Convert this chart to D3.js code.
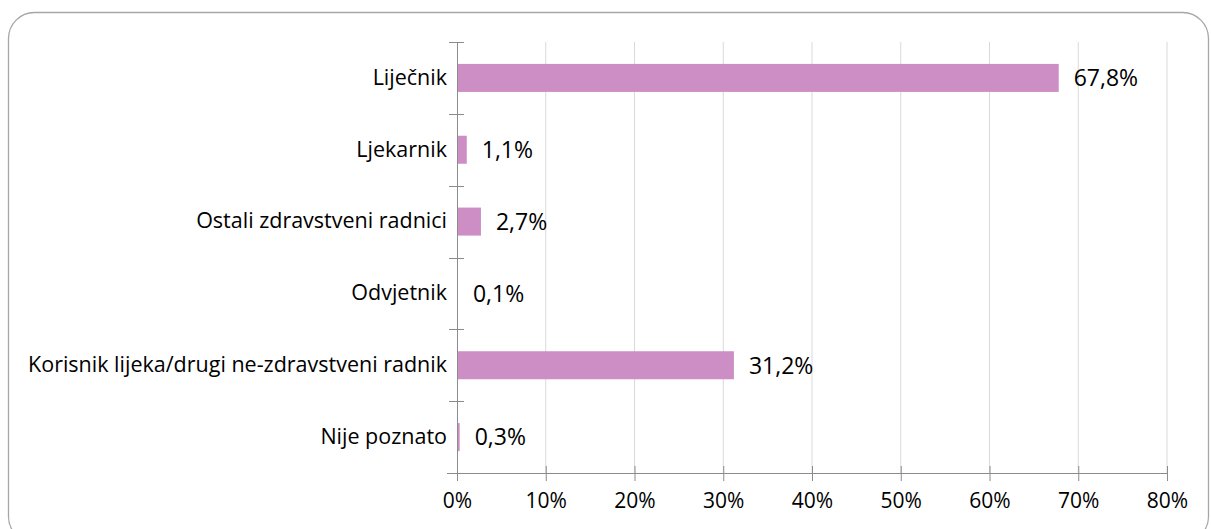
<!DOCTYPE html>
<html>
<head>
<meta charset="utf-8">
<script src="https://cdn.jsdelivr.net/npm/d3@7"></script>
<style>
  body { margin: 0; background: #fff; }
  text { font-family: "Open Sans", sans-serif; fill: #000; }
</style>
</head>
<body>
<div id="chart"></div>
<script>
// chart data
var categories = ["Liječnik", "Ljekarnik", "Ostali zdravstveni radnici", "Odvjetnik",
                  "Korisnik lijeka/drugi ne-zdravstveni radnik", "Nije poznato"];
var values = [67.8, 1.1, 2.7, 0.1, 31.2, 0.3];
var valueLabels = ["67,8%", "1,1%", "2,7%", "0,1%", "31,2%", "0,3%"];
var xTicks = [0, 10, 20, 30, 40, 50, 60, 70, 80];

var W = 1211, H = 529;
var margin = {top: 42, right: 44, bottom: 56, left: 457},
    width = W - margin.left - margin.right,
    height = H - margin.top - margin.bottom;

var root = d3.select("#chart").append("svg")
    .attr("width", W)
    .attr("height", H);

// outer frame
root.append("rect")
    .attr("x", 8.5).attr("y", 12.5)
    .attr("width", 1200).attr("height", 530)
    .attr("rx", 26).attr("ry", 26)
    .attr("fill", "none")
    .attr("stroke", "#a6a6a6")
    .attr("stroke-width", 1.3);

var svg = root.append("g")
    .attr("transform", "translate(" + margin.left + "," + margin.top + ")");

var x = d3.scaleLinear().domain([0, 80]).range([0, width]);
var y = d3.scaleBand().domain(categories).range([0, height]).padding(0);

// gridlines
svg.selectAll(".grid")
    .data(xTicks.slice(1))
    .enter().append("line")
    .attr("x1", d => x(d)).attr("x2", d => x(d))
    .attr("y1", 0).attr("y2", height)
    .attr("stroke", "#d9d9d9")
    .attr("stroke-width", 1);

// bars
var barH = y.bandwidth() * 0.39;
svg.selectAll(".bar")
    .data(values)
    .enter().append("rect")
    .attr("x", 0)
    .attr("y", (d, i) => y(categories[i]) + (y.bandwidth() - barH) / 2)
    .attr("width", d => x(d))
    .attr("height", barH)
    .attr("fill", "#cc8ec4");

// value labels
svg.selectAll(".val")
    .data(values)
    .enter().append("text")
    .attr("x", d => x(d) + 15)
    .attr("y", (d, i) => y(categories[i]) + y.bandwidth() / 2)
    .attr("dy", "0.36em")
    .attr("font-size", 23)
    .text((d, i) => valueLabels[i]);

// x axis
var xAxis = d3.axisBottom(x)
    .tickValues(xTicks)
    .tickFormat(d => d + "%")
    .tickSizeInner(8)
    .tickSizeOuter(0)
    .tickPadding(12);

var gx = svg.append("g")
    .attr("transform", "translate(0," + height + ")")
    .call(xAxis);
gx.select(".domain").attr("stroke", "#8c8c8c").attr("d", "M-10,0.5H" + (width + 0.5));
gx.selectAll(".tick line").attr("stroke", "#8c8c8c").attr("y1", -7).attr("y2", 8);
gx.selectAll(".tick text").attr("font-size", 21).attr("font-family", "'Open Sans', sans-serif").attr("fill", "#000");

// y axis
var yAxis = d3.axisLeft(y).tickSize(0).tickPadding(10);
var gy = svg.append("g").call(yAxis);
gy.select(".domain").attr("stroke", "#8c8c8c").attr("d", "M0.5,0V" + height);
gy.selectAll(".tick text").attr("font-size", 21.5).attr("font-family", "'Open Sans', sans-serif").attr("fill", "#000");

// y axis tick marks between categories
var bounds = categories.map(c => y(c)).concat([height]);
svg.selectAll(".ytick")
    .data(bounds)
    .enter().append("line")
    .attr("x1", -8).attr("x2", 7)
    .attr("y1", d => Math.round(d) + 0.5).attr("y2", d => Math.round(d) + 0.5)
    .attr("stroke", "#8c8c8c");
</script>
</body>
</html>
